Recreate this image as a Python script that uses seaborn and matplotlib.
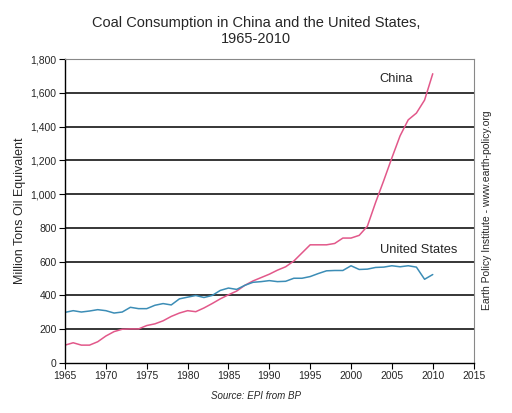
import matplotlib
matplotlib.use("Agg")
import matplotlib.pyplot as plt
import seaborn as sns
import pandas as pd
from matplotlib.ticker import FuncFormatter

years = list(range(1965, 2011))
china = [106, 120, 106, 106, 126, 160, 186, 200, 202, 202,
         222, 232, 250, 276, 296, 310, 304, 326, 352, 380,
         404, 426, 460, 486, 506, 526, 550, 570, 604, 652,
         700, 700, 700, 708, 740, 740, 756, 810, 950, 1080,
         1215, 1345, 1440, 1480, 1557, 1713]
us = [300, 310, 302, 308, 316, 310, 296, 302, 330, 322,
      322, 342, 352, 344, 380, 390, 400, 388, 400, 430,
      444, 436, 460, 478, 482, 488, 482, 484, 502, 502,
      512, 530, 546, 548, 548, 576, 554, 556, 566, 568,
      576, 570, 576, 568, 496, 524]

df = pd.DataFrame({"Year": years * 2,
                   "Value": china + us,
                   "Country": ["China"] * len(years) + ["United States"] * len(years)})

sns.set_theme(style="white")
plt.rcParams['font.family'] = ['Liberation Sans', 'DejaVu Sans']

fig = plt.figure(figsize=(5.12, 4.13), dpi=100)
ax = fig.add_axes([0.127, 0.121, 0.798, 0.736])

sns.lineplot(data=df, x="Year", y="Value", hue="Country",
             palette={"China": "#E2588A", "United States": "#3C8DB6"},
             linewidth=1.1, legend=False, ax=ax)

ax.set_xlim(1965, 2015)
ax.set_ylim(0, 1800)
ax.set_xticks(range(1965, 2016, 5))
ax.set_yticks(range(0, 1801, 200))
ax.yaxis.set_major_formatter(FuncFormatter(lambda v, p: f"{int(v):,}"))
for yv in range(200, 1800, 200):
    ax.axhline(yv, color="black", linewidth=1.1, zorder=0)

for s in ["top", "right"]:
    ax.spines[s].set_color("#888888")
    ax.spines[s].set_linewidth(0.8)
for s in ["left", "bottom"]:
    ax.spines[s].set_color("black")
    ax.spines[s].set_linewidth(1.0)
ax.tick_params(axis="both", which="major", direction="out", length=4,
               width=0.8, color="black", labelsize=7.5, pad=2,
               bottom=True, left=True)

ax.set_xlabel("")
ax.set_ylabel("")
fig.text(0.04, 0.49, "Million Tons Oil Equivalent", rotation=90,
         ha="center", va="center", fontsize=9)

ax.text(2003.5, 1680, "China", fontsize=9.3, ha="left", va="center")
ax.text(2003.5, 668, "United States", fontsize=9.3, ha="left", va="center")

fig.text(0.5, 0.925, "Coal Consumption in China and the United States,\n1965-2010",
         ha="center", va="center", fontsize=10.5, linespacing=1.15)
fig.text(0.5, 0.04, "Source: EPI from BP", ha="center", va="center",
         fontsize=7, style="italic")
fig.text(0.952, 0.49, "Earth Policy Institute - www.earth-policy.org",
         rotation=90, ha="center", va="center", fontsize=7.5)

fig.savefig("out.png", dpi=100)
